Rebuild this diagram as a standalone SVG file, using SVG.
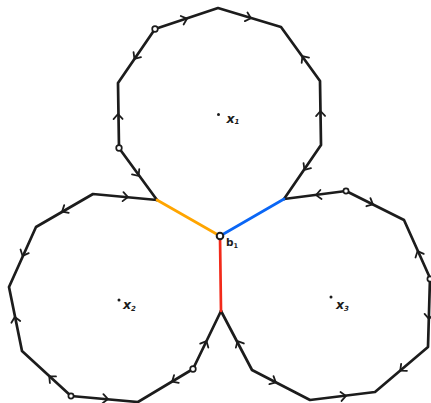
<svg xmlns="http://www.w3.org/2000/svg" xmlns:xlink="http://www.w3.org/1999/xlink" width="431" height="403" viewBox="0 0 431 403">
<style>
.edge{fill:none;stroke:#1c1c1c;stroke-width:2.7;stroke-linejoin:round;stroke-linecap:round}
.chev{fill:none;stroke:#1c1c1c;stroke-width:1.8;stroke-linecap:round;stroke-linejoin:round}
.pt{fill:#fff;stroke:#1c1c1c;stroke-width:1.7}
.lbl{font-family:"DejaVu Sans",sans-serif;font-weight:bold;fill:#1c1c1c}
</style>
<defs>
<path id="chev" class="chev" d="M-4,-4.5 L1,0 L-4,4.5"/>
</defs>
<rect width="431" height="403" fill="#fff"/>
<g id="connectors">
<polyline class="edge" points="157,200 119,148 118,83 155,29 218,8 281,27 320,81 321,145 284,199"/>
<polyline class="edge" points="157,200 93,194 36,227 9,287 22,351 71,396 138,402 193,369 221,311"/>
<polyline class="edge" points="284,199 346,191 404,220 430,278 428,347 375,392 310,400 252,370 221,311"/>
<line x1="157" y1="200" x2="220" y2="236" stroke="#FFA500" stroke-width="2.7" stroke-linecap="round"/>
<line x1="284" y1="199" x2="220" y2="236" stroke="#0A66F5" stroke-width="2.7" stroke-linecap="round"/>
<line x1="220" y1="236" x2="221" y2="311" stroke="#F22A1A" stroke-width="2.7" stroke-linecap="round"/>
<g id="arrows">
<use xlink:href="#chev" transform="translate(138,175) rotate(53.8)"/>
<use xlink:href="#chev" transform="translate(118,115) rotate(-90.9)"/>
<use xlink:href="#chev" transform="translate(135,58) rotate(124.4)"/>
<use xlink:href="#chev" transform="translate(186,19) rotate(-18.4)"/>
<use xlink:href="#chev" transform="translate(250,18) rotate(16.8)"/>
<use xlink:href="#chev" transform="translate(303,57) rotate(-125.8)"/>
<use xlink:href="#chev" transform="translate(320.5,112) rotate(-90.9)"/>
<use xlink:href="#chev" transform="translate(305,169) rotate(124.4)"/>
<use xlink:href="#chev" transform="translate(127,197) rotate(5.4)"/>
<use xlink:href="#chev" transform="translate(63,211) rotate(150)"/>
<use xlink:href="#chev" transform="translate(23,255) rotate(114.2)"/>
<use xlink:href="#chev" transform="translate(15,318) rotate(-101.5)"/>
<use xlink:href="#chev" transform="translate(50,377) rotate(-137.4)"/>
<use xlink:href="#chev" transform="translate(107,399) rotate(5.1)"/>
<use xlink:href="#chev" transform="translate(173,381) rotate(149)"/>
<use xlink:href="#chev" transform="translate(206,342) rotate(-64.2)"/>
<use xlink:href="#chev" transform="translate(317,195) rotate(172.5)"/>
<use xlink:href="#chev" transform="translate(372,204) rotate(26.6)"/>
<use xlink:href="#chev" transform="translate(418,252) rotate(-114.1)"/>
<use xlink:href="#chev" transform="translate(429,318) rotate(91.7)"/>
<use xlink:href="#chev" transform="translate(401,370) rotate(139.7)"/>
<use xlink:href="#chev" transform="translate(345,396) rotate(-7)"/>
<use xlink:href="#chev" transform="translate(275,382) rotate(27.4)"/>
<use xlink:href="#chev" transform="translate(238,342) rotate(-117.7)"/>
</g>
</g>
<g id="b1">
<circle cx="220" cy="236" r="3.3" fill="#fff" stroke="#1c1c1c" stroke-width="2"/>
<text class="lbl" x="226" y="246" font-size="10.5">b<tspan font-size="6.5" dy="1.5">1</tspan></text>
</g>
<g id="points">
<circle class="pt" cx="155" cy="29" r="2.8"/>
<circle class="pt" cx="119" cy="148" r="2.8"/>
<circle class="pt" cx="71" cy="396" r="2.6"/>
<circle class="pt" cx="193" cy="369" r="2.8"/>
<circle class="pt" cx="346" cy="191" r="2.6"/>
<circle class="pt" cx="430" cy="279" r="2.6"/>
</g>
<g id="x1">
<circle cx="218.5" cy="114.5" r="1.5" fill="#1c1c1c"/>
<text class="lbl" x="226.5" y="122.5" font-size="12.5" font-style="italic">x<tspan font-size="7" dy="1.5">1</tspan></text>
</g>
<g id="x2">
<circle cx="119" cy="300" r="1.5" fill="#1c1c1c"/>
<text class="lbl" x="123" y="308.5" font-size="12.5" font-style="italic">x<tspan font-size="7" dy="2">2</tspan></text>
</g>
<g id="x3">
<circle cx="331" cy="297" r="1.5" fill="#1c1c1c"/>
<text class="lbl" x="336" y="308.5" font-size="12.5" font-style="italic">x<tspan font-size="7" dy="2">3</tspan></text>
</g>
</svg>
